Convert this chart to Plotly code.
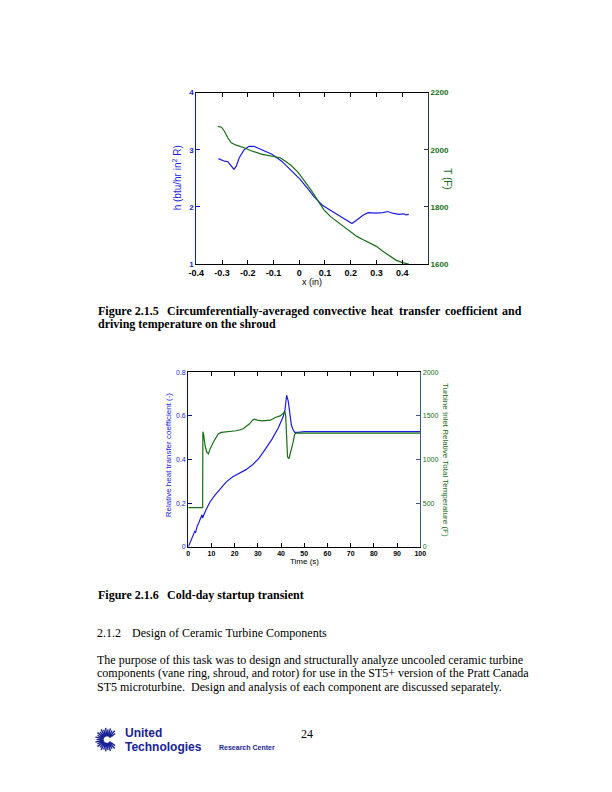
import math
import plotly.graph_objects as go

# ---------------- data: Figure 2.1.5 ----------------
h_x = [-0.314, -0.302, -0.290, -0.277, -0.264, -0.254, -0.245, -0.233, -0.214, -0.195,
       -0.176, -0.144, -0.106, -0.068, -0.030, 0.002, 0.033, 0.059, 0.090, 0.122,
       0.148, 0.173, 0.205, 0.224, 0.249, 0.268, 0.300, 0.325, 0.344, 0.363,
       0.388, 0.407, 0.414, 0.426]
h_val = [2.845, 2.82, 2.80, 2.79, 2.72, 2.66, 2.71, 2.86, 3.00, 3.06,
         3.06, 3.00, 2.92, 2.80, 2.63, 2.49, 2.32, 2.17, 2.03, 1.94,
         1.86, 1.80, 1.71, 1.77, 1.86, 1.90, 1.89, 1.90, 1.92, 1.89,
         1.87, 1.88, 1.86, 1.87]
T_x = [-0.316, -0.302, -0.290, -0.277, -0.264, -0.245, -0.214, -0.182, -0.144, -0.106,
       -0.074, -0.055, -0.030, -0.004, 0.021, 0.047, 0.072, 0.097, 0.122, 0.148,
       0.173, 0.199, 0.224, 0.249, 0.275, 0.300, 0.325, 0.351, 0.376, 0.401, 0.426]
T_val = [2082, 2079, 2064, 2041, 2024, 2016, 2007, 1995, 1984, 1978,
         1972, 1961, 1944, 1921, 1892, 1858, 1823, 1789, 1766, 1748,
         1731, 1714, 1697, 1685, 1674, 1662, 1645, 1628, 1614, 1605, 1600]
x1_ticks = [-0.4, -0.3, -0.2, -0.1, 0, 0.1, 0.2, 0.3, 0.4]
x1_ticktext = ["-0.4", "-0.3", "-0.2", "-0.1", "0", "0.1", "0.2", "0.3", "0.4"]
h_ticks = [1, 2, 3, 4]
T_ticks = [1600, 1800, 2000, 2200]

# ---------------- data: Figure 2.1.6 ----------------
rh_t = [0, 0.7, 1.7, 2.4, 2.8, 3.2, 3.8, 4.5, 5.2, 5.9, 6.2, 6.6, 7.0, 8.0, 9.4, 11.5,
        13.6, 16.4, 19.2, 22.1, 24.9, 27.7, 30.5, 33.3, 36.1, 38.9, 41.0, 41.7, 42.4,
        43.1, 43.8, 44.5, 45.2, 45.9, 47.3, 50.1, 55.8, 100]
rh_val = [0, 0.018, 0.048, 0.064, 0.071, 0.068, 0.094, 0.109, 0.128, 0.147, 0.132, 0.147,
          0.154, 0.177, 0.207, 0.237, 0.265, 0.298, 0.321, 0.339, 0.354, 0.376, 0.407,
          0.449, 0.494, 0.547, 0.600, 0.630, 0.695, 0.668, 0.600, 0.555, 0.537, 0.525,
          0.525, 0.528, 0.528, 0.528]
tt_t = [0, 6.2, 6.3, 6.6, 7.3, 8.0, 8.7, 9.4, 10.8, 12.9, 14.3, 17.8, 20.6, 23.5, 26.3,
        27.7, 28.4, 29.8, 31.9, 35.4, 37.5, 39.6, 41.0, 41.7, 42.0, 42.4, 42.8, 43.4,
        44.2, 45.2, 45.9, 46.6, 100]
tt_val = [450, 450, 1320, 1293, 1153, 1085, 1066, 1123, 1199, 1293, 1312, 1320, 1331,
          1350, 1407, 1452, 1463, 1452, 1444, 1452, 1482, 1501, 1527, 1546, 1501, 1274,
          1029, 1010, 1085, 1199, 1293, 1304, 1304]
t_ticks = [0, 10, 20, 30, 40, 50, 60, 70, 80, 90, 100]
rh_ticks = [0, 0.2, 0.4, 0.6, 0.8]
tt_ticks = [0, 500, 1000, 1500, 2000]

W, H = 612, 792
OFF = 8  # page body margin of the rendered html
BLUE = "rgb(28,28,225)"
GREEN = "rgb(22,110,22)"
SANS = "Liberation Sans, Arial, sans-serif"
SERIF = "Liberation Serif, Times New Roman, serif"


def px(x):
    return (x - OFF) / W


def py(y):
    return 1 - (y - OFF) / H


fig = go.Figure()
fig.add_trace(go.Scatter(x=h_x, y=h_val, mode="lines", line=dict(color=BLUE, width=1.2),
                         xaxis="x", yaxis="y", showlegend=False))
fig.add_trace(go.Scatter(x=T_x, y=T_val, mode="lines", line=dict(color=GREEN, width=1.2),
                         xaxis="x", yaxis="y2", showlegend=False))
fig.add_trace(go.Scatter(x=tt_t, y=tt_val, mode="lines", line=dict(color=GREEN, width=1.2),
                         xaxis="x2", yaxis="y4", showlegend=False))
fig.add_trace(go.Scatter(x=rh_t, y=rh_val, mode="lines", line=dict(color=BLUE, width=1.2),
                         xaxis="x2", yaxis="y3", showlegend=False))

common = dict(showgrid=False, zeroline=False, showline=True, ticks="inside", ticklen=4)

fig.update_layout(
    width=W, height=H, margin=dict(l=0, r=0, t=0, b=0),
    paper_bgcolor="white", plot_bgcolor="white",
    xaxis=dict(domain=[px(192.5), px(429.5)], anchor="y", range=[-0.4, 0.5],
               tickvals=x1_ticks, ticktext=x1_ticktext, linecolor="black", linewidth=1.2,
               mirror="ticks", tickcolor="black",
               tickfont=dict(family=SANS, size=9, color="black", weight="bold"), **common),
    yaxis=dict(domain=[py(263), py(89.5)], anchor="x", range=[1, 4], tickvals=h_ticks,
               linecolor="rgb(20,20,200)", linewidth=1.2, tickcolor="rgb(20,20,200)",
               tickfont=dict(family=SANS, size=8, color=BLUE, weight="bold"), **common),
    yaxis2=dict(overlaying="y", side="right", anchor="x", range=[1600, 2200], tickvals=T_ticks,
                linecolor="rgb(30,60,70)", linewidth=1.2, tickcolor="rgb(30,60,70)",
                tickfont=dict(family=SANS, size=8, color=GREEN, weight="bold"), **common),
    xaxis2=dict(domain=[px(184.3), px(421.7)], anchor="y3", range=[0, 100], tickvals=t_ticks,
                linecolor="black", linewidth=1.2, mirror="ticks", tickcolor="black",
                tickfont=dict(family=SANS, size=7, color="black", weight="bold"), **common),
    yaxis3=dict(domain=[py(549), py(372.5)], anchor="x2", range=[0, 0.8], tickvals=rh_ticks,
                ticktext=["0", "0.2", "0.4", "0.6", "0.8"],
                linecolor="rgb(10,10,130)", linewidth=1.2, tickcolor="rgb(10,10,130)",
                tickfont=dict(family=SANS, size=7, color=BLUE), **common),
    yaxis4=dict(overlaying="y3", side="right", anchor="x2", range=[0, 2000], tickvals=tt_ticks,
                linecolor="rgb(60,90,140)", linewidth=1.2, tickcolor="rgb(60,90,140)",
                tickfont=dict(family=SANS, size=7, color=GREEN), **common),
)

anns = []


def ann(text, x, y, size=12, color="black", family=SERIF, xanchor="left", angle=0, weight=None):
    f = dict(family=family, size=size, color=color)
    if weight:
        f["weight"] = weight
    anns.append(dict(text=text, x=px(x), y=py(y), xref="paper", yref="paper", showarrow=False,
                     xanchor=xanchor, yanchor="middle", textangle=angle, font=f, borderpad=0,
                     align="left" if xanchor == "left" else "center"))


# axis titles
ann("h (btu/hr in<sup>2</sup> R)", 173, 176, size=10, color=BLUE, family=SANS, xanchor="center", angle=-90)
ann("T (F)", 450, 177, size=10, color=GREEN, family=SANS, xanchor="center", angle=90)
ann("x (in)", 311, 281, size=9, color="black", family=SANS, xanchor="center")
ann("Relative heat transfer coefficient (-)", 165, 456, size=8, color=BLUE, family=SANS, xanchor="center", angle=-90)
ann("Turbine Inlet Relative Total Temperature (F)", 447, 461, size=8, color=GREEN, family=SANS, xanchor="center", angle=90)
ann("Time (s)", 303, 564, size=8, color="black", family=SANS, xanchor="center")

# caption 2.1.5 (justified first line)
words = [("Figure 2.1.5", 91), ("Circumferentially-averaged", 162), ("convective", 310.8),
         ("heat", 370.3), ("transfer", 398.5), ("coefficient", 446.0), ("and", 504.8)]
for w, x in words:
    ann("<b>%s</b>" % w, x, 310, size=12)
ann("<b>driving temperature on the shroud</b>", 91, 324, size=12)

ann("<b>Figure 2.1.6</b>", 91, 598, size=12)
ann("<b>Cold-day startup transient</b>", 162, 598, size=12)

ann("2.1.2", 90, 636, size=12)
ann("Design of Ceramic Turbine Components", 126, 636, size=12)
para = ["The purpose of this task was to design and structurally analyze uncooled ceramic turbine",
        "components (vane ring, shroud, and rotor) for use in the ST5+ version of the Pratt Canada",
        "ST5 microturbine.  Design and analysis of each component are discussed separately."]
for i, line in enumerate(para):
    ann(line.replace("  ", "&nbsp; "), 90, 663 + 14 * i, size=12)

ann("24", 306, 738, size=12, xanchor="center")

LOGO = "rgb(25,35,150)"
ann("<b>United</b>", 119, 737.5, size=12, color=LOGO, family=SANS)
ann("<b>Technologies</b>", 119, 751, size=12, color=LOGO, family=SANS)
ann("<b>Research Center</b>", 215, 752, size=7, color=LOGO, family=SANS)

# sunburst logo shapes
shapes = []
cx, cy = 101, 744
for k in range(30):
    a = 2 * math.pi * k / 30
    deg = math.degrees(a) % 360
    if deg < 25 or deg > 335:
        continue
    r0, r1 = 6.5, (12 if k % 2 == 0 else 10.5)
    shapes.append(dict(type="line", xref="paper", yref="paper",
                       x0=px(cx + r0 * math.cos(a)), y0=py(cy - r0 * math.sin(a)),
                       x1=px(cx + r1 * math.cos(a)), y1=py(cy - r1 * math.sin(a)),
                       line=dict(color=LOGO, width=1.4)))
a0, a1 = 0.55, 2 * math.pi - 0.55
n = 30
outer = [(cx + 7 * math.cos(a0 + (a1 - a0) * i / n), cy - 7 * math.sin(a0 + (a1 - a0) * i / n)) for i in range(n + 1)]
inner = [(cx + 3.5 * math.cos(a0 + (a1 - a0) * i / n), cy - 3.5 * math.sin(a0 + (a1 - a0) * i / n)) for i in range(n, -1, -1)]
pts = outer + inner
path = "M " + " L ".join("%f %f" % (px(x), py(y)) for x, y in pts) + " Z"
shapes.append(dict(type="path", xref="paper", yref="paper", path=path,
                   fillcolor=LOGO, line=dict(color=LOGO, width=0.5)))

fig.update_layout(annotations=anns, shapes=shapes)
fig.write_html("out.html")
